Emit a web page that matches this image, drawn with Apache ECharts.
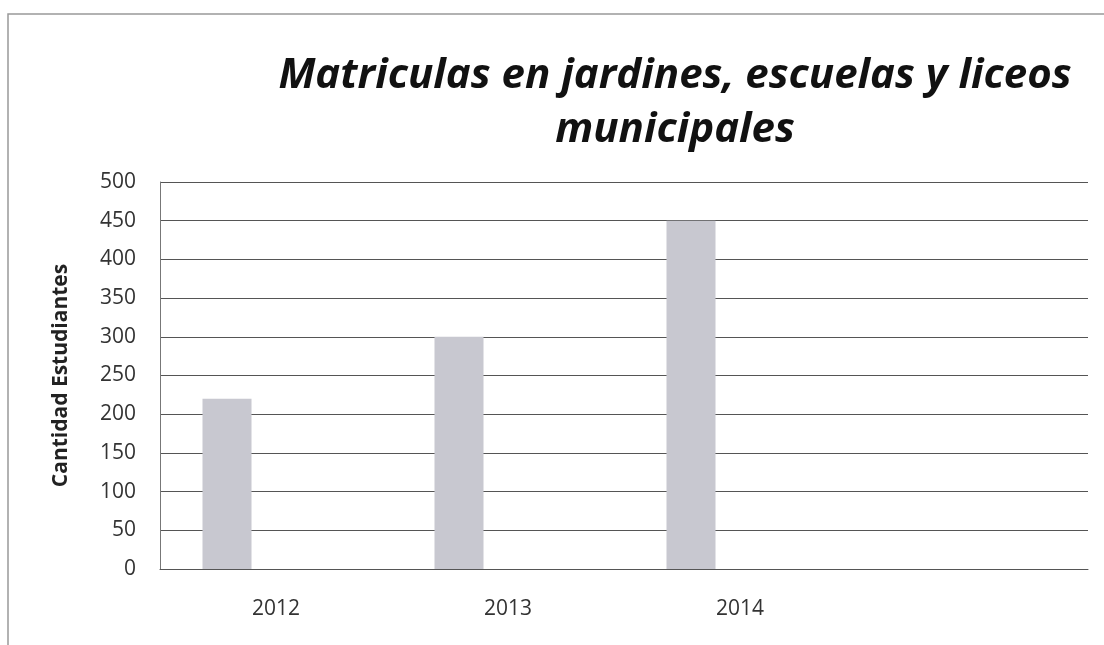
<!DOCTYPE html>
<html>
<head>
<meta charset="utf-8">
<script src="https://cdn.jsdelivr.net/npm/echarts@6/dist/echarts.min.js"></script>
<style>
html, body { margin: 0; padding: 0; background: #fff; }
#echar { width: 1104px; height: 645px; }
</style>
</head>
<body>
<div id="echar"></div>
<script>
var years = ['2012', '2013', '2014', ''];
var matriculas = [220, 300, 450, null];
var emptySerie = [null, null, null, null];

var myChart = echarts.init(document.getElementById('echar'));

var option = {
    backgroundColor: '#fff',
    title: {
        text: 'Matriculas en jardines, escuelas y liceos\nmunicipales',
        left: 670,
        top: 44,
        textAlign: 'center',
        textStyle: {
            fontFamily: 'Open Sans',
            fontStyle: 'italic',
            fontWeight: 'bold',
            fontSize: 42,
            lineHeight: 54,
            color: '#111'
        }
    },
    //marco del grafico
    graphic: [{
        type: 'polyline',
        shape: { points: [[8, 645], [8, 14], [1104, 14]] },
        style: { stroke: '#999', lineWidth: 1.5, fill: null }
    }],
    grid: {
        left: 160,
        right: 16,
        top: 182,
        bottom: 76,
        containLabel: false
    },
    xAxis: {
        type: 'category',
        data: years,
        axisLine: { show: true, lineStyle: { color: '#555' } },
        axisTick: { show: false },
        axisLabel: {
            color: '#333',
            fontFamily: 'Open Sans',
            fontSize: 21,
            margin: 30
        }
    },
    yAxis: {
        type: 'value',
        min: 0,
        max: 500,
        interval: 50,
        name: 'Cantidad Estudiantes',
        nameLocation: 'middle',
        nameGap: 88,
        nameTextStyle: {
            fontFamily: 'Open Sans',
            fontWeight: 'bold',
            fontSize: 21,
            color: '#222'
        },
        axisLine: { show: true, lineStyle: { color: '#777' } },
        axisTick: { show: false },
        axisLabel: {
            color: '#333',
            fontFamily: 'Open Sans',
            fontSize: 21,
            margin: 24
        },
        splitLine: { lineStyle: { color: '#555', width: 1 } }
    },
    series: [{
        type: 'bar',
        data: matriculas,
        barWidth: 49,
        barGap: '0%',
        itemStyle: { color: '#c8c8d0' }
    }, {
        type: 'bar',
        data: emptySerie,
        barWidth: 49
    }, {
        type: 'bar',
        data: emptySerie,
        barWidth: 49
    }]
};

myChart.setOption(option);
</script>
</body>
</html>
